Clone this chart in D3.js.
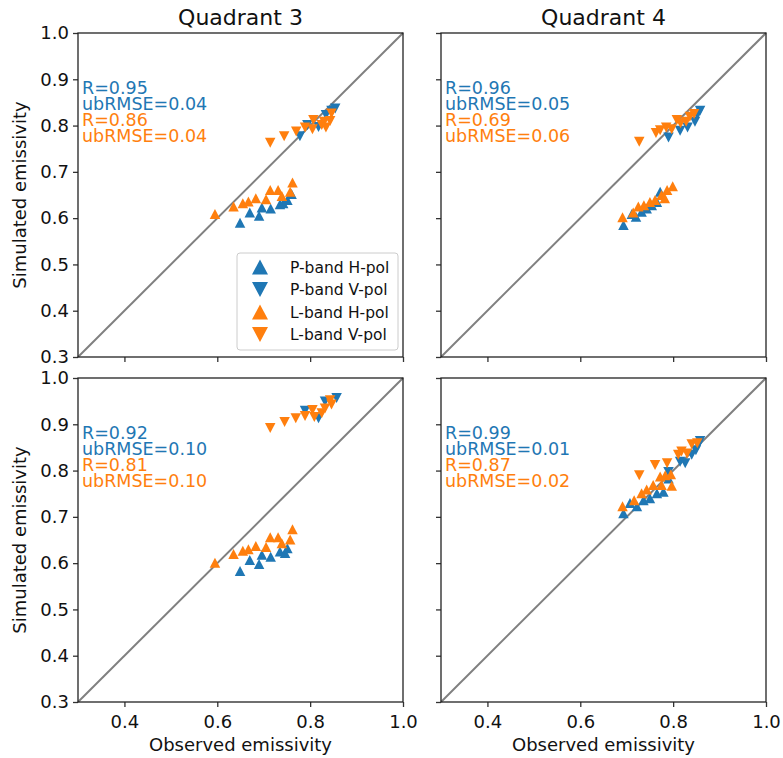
<!DOCTYPE html>
<html>
<head>
<meta charset="utf-8">
<script src="https://cdn.jsdelivr.net/npm/d3@7"></script>
<style>
  body { margin: 0; background: #fff; }
  svg text { font-family: "DejaVu Sans", sans-serif; }
</style>
</head>
<body>
<div class="main__area"></div>
<script>
// [observed, simulated] pairs
// row 1 = top panels, row 2 = bottom panels
const q3Row1PH=[[0.649,0.590],[0.670,0.612],[0.690,0.605],[0.696,0.623],[0.715,0.621],[0.735,0.630],[0.742,0.632],[0.751,0.639],[0.760,0.652]];
const q3Row1PV=[[0.778,0.777],[0.794,0.801],[0.818,0.797],[0.834,0.823],[0.846,0.832],[0.854,0.837]];
const q3Row1LH=[[0.595,0.609],[0.635,0.625],[0.655,0.632],[0.667,0.636],[0.683,0.643],[0.705,0.641],[0.714,0.661],[0.731,0.661],[0.739,0.648],[0.757,0.657],[0.762,0.677]];
const q3Row1LV=[[0.714,0.763],[0.744,0.777],[0.770,0.787],[0.789,0.796],[0.805,0.792],[0.807,0.812],[0.825,0.801],[0.830,0.808],[0.834,0.796],[0.843,0.810],[0.846,0.826]];

const q4Row1PH=[[0.693,0.585],[0.711,0.609],[0.720,0.603],[0.732,0.614],[0.743,0.621],[0.754,0.628],[0.765,0.635],[0.772,0.657]];
const q4Row1PV=[[0.790,0.774],[0.815,0.789],[0.831,0.796],[0.847,0.808],[0.852,0.823],[0.858,0.832]];
const q4Row1LH=[[0.691,0.602],[0.714,0.612],[0.725,0.625],[0.737,0.628],[0.750,0.635],[0.761,0.639],[0.775,0.650],[0.782,0.643],[0.787,0.661],[0.799,0.669]];
const q4Row1LV=[[0.727,0.765],[0.763,0.784],[0.772,0.790],[0.785,0.796],[0.797,0.792],[0.808,0.812],[0.816,0.805],[0.828,0.808],[0.836,0.819],[0.845,0.825]];

const q3Row2PH=[[0.649,0.583],[0.670,0.607],[0.690,0.598],[0.696,0.618],[0.715,0.614],[0.735,0.625],[0.746,0.622],[0.751,0.632]];
const q3Row2PV=[[0.789,0.929],[0.818,0.913],[0.832,0.949],[0.857,0.957]];
const q3Row2LH=[[0.595,0.601],[0.635,0.620],[0.655,0.627],[0.667,0.630],[0.683,0.637],[0.705,0.635],[0.714,0.656],[0.731,0.656],[0.739,0.643],[0.757,0.651],[0.762,0.673]];
const q3Row2LV=[[0.714,0.892],[0.745,0.905],[0.769,0.913],[0.789,0.918],[0.805,0.931],[0.809,0.916],[0.825,0.924],[0.832,0.934],[0.843,0.952],[0.846,0.943]];

const q4Row2PH=[[0.693,0.708],[0.707,0.730],[0.722,0.723],[0.736,0.736],[0.750,0.740],[0.765,0.751],[0.779,0.754],[0.790,0.783]];
const q4Row2PV=[[0.790,0.797],[0.815,0.819],[0.826,0.816],[0.840,0.834],[0.849,0.844],[0.854,0.855],[0.858,0.864]];
const q4Row2LH=[[0.691,0.723],[0.716,0.736],[0.732,0.751],[0.743,0.759],[0.757,0.769],[0.775,0.769],[0.772,0.787],[0.783,0.790],[0.795,0.792],[0.797,0.767]];
const q4Row2LV=[[0.727,0.790],[0.761,0.812],[0.787,0.816],[0.811,0.834],[0.818,0.841],[0.830,0.837],[0.840,0.857],[0.852,0.859]];

const seriesNames=["P-band H-pol","P-band V-pol","L-band H-pol","L-band V-pol"];
const titles=["Quadrant 3","Quadrant 4"];
const statsText=[
    ["R=0.95","ubRMSE=0.04","R=0.86","ubRMSE=0.04"],
    ["R=0.96","ubRMSE=0.05","R=0.69","ubRMSE=0.06"],
    ["R=0.92","ubRMSE=0.10","R=0.81","ubRMSE=0.10"],
    ["R=0.99","ubRMSE=0.01","R=0.87","ubRMSE=0.02"]
];
const xTicks=[0.4,0.6,0.8,1.0];
const yTicks=[0.3,0.4,0.5,0.6,0.7,0.8,0.9,1.0];

const panels=[
    { col:0, row:0, series:[q3Row1PH,q3Row1PV,q3Row1LH,q3Row1LV] },
    { col:1, row:0, series:[q4Row1PH,q4Row1PV,q4Row1LH,q4Row1LV] },
    { col:0, row:1, series:[q3Row2PH,q3Row2PV,q3Row2LH,q3Row2LV] },
    { col:1, row:1, series:[q4Row2PH,q4Row2PV,q4Row2LH,q4Row2LV] }
];

const width=783;
const height=758;
const panelW=325;
const panelH=324;
const lefts=[78,441];
const tops=[33,378];
const blue="#1f77b4";
const orange="#ff7f0e";
const colors=[blue,blue,orange,orange];
const isUp=[true,false,true,false];

const svgTag=d3.select(".main__area").append("svg")
    .attr("width", width)
    .attr("height", height);

function triangle(w, h, up) {
    const s=up ? 1 : -1;
    return `M0,${-s*h/2}L${w/2},${s*h/2}L${-w/2},${s*h/2}Z`;
}

const x=d3.scaleLinear().domain([0.3,1.0]).range([0,panelW]);
const y=d3.scaleLinear().domain([0.3,1.0]).range([panelH,0]);

panels.forEach((panel, key)=>{
    const g=svgTag.append("g")
        .attr("transform", `translate(${lefts[panel.col]}, ${tops[panel.row]})`);

    // 1:1 line
    g.append("line")
        .attr("x1", x(0.3)).attr("y1", y(0.3))
        .attr("x2", x(1.0)).attr("y2", y(1.0))
        .attr("stroke", "#808080").attr("stroke-width", 2);

    panel.series.forEach((points, si)=>{
        g.selectAll(null).data(points).enter().append("path")
            .attr("transform", d=>`translate(${x(d[0])},${y(d[1])})`)
            .attr("d", triangle(10.5, 10, isUp[si]))
            .attr("fill", colors[si]);
    });

    // axes
    const xAxis=d3.axisBottom(x).tickValues(xTicks).tickSize(5).tickPadding(4)
        .tickFormat(panel.row===1 ? d3.format(".1f") : "");
    const yAxis=d3.axisLeft(y).tickValues(yTicks).tickSize(5).tickPadding(4)
        .tickFormat(panel.col===0 ? d3.format(".1f") : "");
    const xg=g.append("g").attr("transform", `translate(0,${panelH})`).call(xAxis);
    const yg=g.append("g").call(yAxis);
    [xg,yg].forEach(a=>{
        a.select(".domain").remove();
        a.selectAll("line").attr("stroke", "#333").attr("stroke-width", 1.3);
        a.selectAll("text").attr("font-size", 18).attr("fill", "#111")
            .attr("font-family", "DejaVu Sans");
    });
    xg.selectAll("text").attr("dy", "0.95em");

    g.append("rect")
        .attr("x", 0).attr("y", 0)
        .attr("width", panelW).attr("height", panelH)
        .attr("fill", "none").attr("stroke", "#222").attr("stroke-width", 1.3);

    // stats block: one text, four coloured lines
    const stats=g.append("text")
        .attr("x", 4).attr("y", 61)
        .attr("font-size", 17.5);
    statsText[key].forEach((t, i)=>{
        stats.append("tspan")
            .attr("x", 4).attr("dy", i===0 ? 0 : 16)
            .attr("fill", i<2 ? blue : orange)
            .text(t);
    });

    if (panel.row===0) {
        g.append("text")
            .attr("x", panelW/2).attr("y", -8)
            .attr("text-anchor", "middle")
            .attr("font-size", 22).attr("fill", "#111")
            .text(titles[panel.col]);
    }
    if (panel.row===1) {
        g.append("text")
            .attr("x", panelW/2).attr("y", panelH+49)
            .attr("text-anchor", "middle")
            .attr("font-size", 18).attr("fill", "#111")
            .text("Observed emissivity");
    }
    if (panel.col===0) {
        g.append("text")
            .attr("transform", `translate(${-52},${panelH/2}) rotate(-90)`)
            .attr("text-anchor", "middle")
            .attr("font-size", 18).attr("fill", "#111")
            .text("Simulated emissivity");
    }

    // legend only in first panel
    if (key===0) {
        const lg=g.append("g").attr("transform", `translate(${159},${220})`);
        lg.append("rect")
            .attr("x", 0).attr("y", 0).attr("width", 161).attr("height", 97)
            .attr("rx", 3).attr("fill", "#fff").attr("fill-opacity", 0.8)
            .attr("stroke", "#ccc").attr("stroke-width", 1);
        seriesNames.forEach((name, i)=>{
            const cy=14 + i*22.5;
            lg.append("path")
                .attr("transform", `translate(23,${cy})`)
                .attr("d", triangle(16, 15, isUp[i]))
                .attr("fill", colors[i]);
            lg.append("text")
                .attr("x", 53).attr("y", cy+5.5)
                .attr("font-size", 15.5).attr("fill", "#111")
                .text(name);
        });
    }
});
</script>
</body>
</html>
